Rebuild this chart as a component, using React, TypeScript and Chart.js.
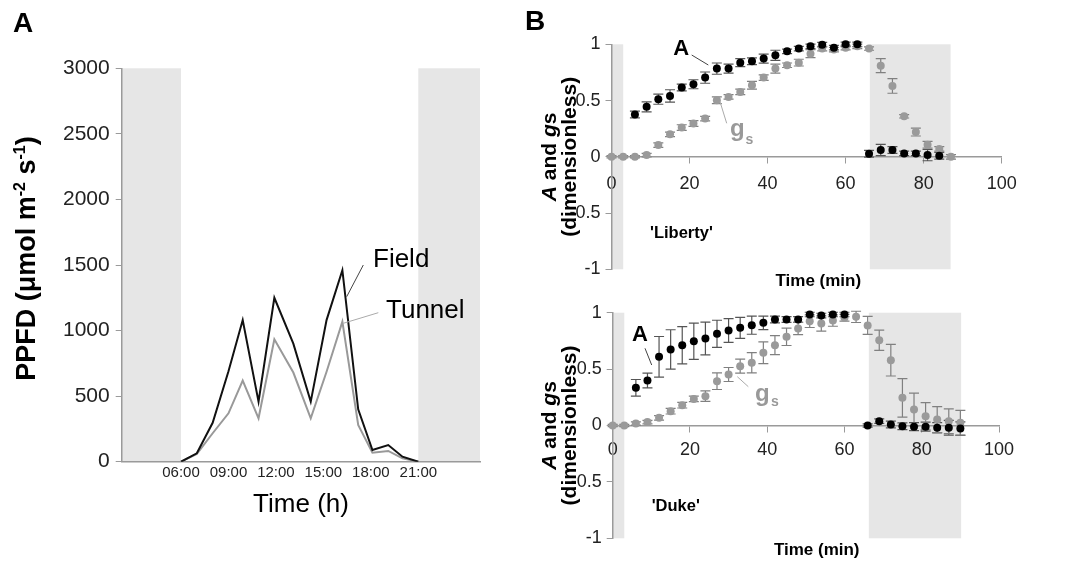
import React, { useEffect, useRef } from "react";
import { Chart, registerables } from "chart.js";

Chart.register(...registerables);

const FONT = '"Liberation Sans", Arial, Helvetica, sans-serif';
const BAND = "#e6e6e6";
const AXIS = "#9a9a9a";

// ---------------- Panel A : PPFD over the day ----------------
const hoursA = [6, 7, 8, 9, 9.9, 10.9, 11.9, 13.1, 14.2, 15.2, 16.2, 17.2, 18.1, 19.1, 20, 21];
const fieldPPFD = [0, 64, 297, 690, 1080, 458, 1250, 900, 458, 1080, 1460, 400, 89, 127, 38, 0];
const tunnelPPFD = [0, 59, 217, 369, 618, 331, 933, 680, 331, 686, 1068, 280, 69, 82, 26, 0];
const hourTickValues = [6, 9, 12, 15, 18, 21];
const hourTickLabels = ["06:00", "09:00", "12:00", "15:00", "18:00", "21:00"];
const ppfdTicks = [0, 500, 1000, 1500, 2000, 2500, 3000];
const darkHoursA = [
  [2.25, 6],
  [21, 24.9],
];

// ---------------- Panel B : 'Liberty' ----------------
const libAx = [6, 9, 12, 15, 18, 21, 24, 27, 30, 33, 36, 39, 42, 45, 48, 51, 54, 57, 60, 63, 66, 69, 72, 75, 78, 81, 84];
const libA = [0.376, 0.444, 0.512, 0.541, 0.616, 0.645, 0.704, 0.784, 0.784, 0.837, 0.849, 0.873, 0.902, 0.938, 0.962, 0.982, 0.997, 0.97, 1.0, 1.0, 0.027, 0.06, 0.06, 0.03, 0.03, 0.015, 0.01];
const libAerr = [0.03, 0.045, 0.045, 0.055, 0.03, 0.04, 0.05, 0.05, 0.04, 0.035, 0.03, 0.04, 0.045, 0.02, 0.02, 0.02, 0.02, 0.02, 0.02, 0.02, 0.03, 0.05, 0.03, 0.02, 0.02, 0.05, 0.03];
const libGx = [0, 3, 6, 9, 12, 15, 18, 21, 24, 27, 30, 33, 36, 39, 42, 45, 48, 51, 54, 57, 60, 63, 66, 69, 72, 75, 78, 81, 84, 87];
const libG = [0, 0, 0, 0.015, 0.104, 0.2, 0.26, 0.296, 0.34, 0.503, 0.532, 0.577, 0.636, 0.704, 0.784, 0.814, 0.837, 0.917, 0.962, 0.953, 0.97, 0.982, 0.962, 0.81, 0.63, 0.36, 0.22, 0.107, 0.07, 0];
const libGerr = [0.01, 0.01, 0.01, 0.015, 0.02, 0.02, 0.025, 0.025, 0.02, 0.03, 0.02, 0.025, 0.035, 0.025, 0.04, 0.02, 0.03, 0.035, 0.02, 0.02, 0.02, 0.02, 0.015, 0.062, 0.065, 0.015, 0.035, 0.03, 0.02, 0.02];
const libDark = [
  [0, 3],
  [66.2, 86.9],
];

// ---------------- Panel B : 'Duke' ----------------
const dukeAx = [6, 9, 12, 15, 18, 21, 24, 27, 30, 33, 36, 39, 42, 45, 48, 51, 54, 57, 60, 66, 69, 72, 75, 78, 81, 84, 87, 90];
const dukeA = [0.334, 0.399, 0.609, 0.674, 0.712, 0.747, 0.771, 0.813, 0.842, 0.866, 0.889, 0.91, 0.94, 0.94, 0.94, 0.984, 0.975, 0.984, 0.984, 0, 0.038, 0.009, -0.006, -0.01, -0.01, -0.02, -0.02, -0.027];
const dukeAerr = [0.074, 0.065, 0.18, 0.175, 0.165, 0.16, 0.145, 0.12, 0.105, 0.093, 0.08, 0.06, 0.03, 0.025, 0.025, 0.02, 0.02, 0.02, 0.02, 0.015, 0.02, 0.03, 0.03, 0.035, 0.04, 0.045, 0.066, 0.06];
const dukeGx = [0, 3, 6, 9, 12, 15, 18, 21, 24, 27, 30, 33, 36, 39, 42, 45, 48, 51, 54, 57, 60, 63, 66, 69, 72, 75, 78, 81, 84, 87, 90];
const dukeG = [0, 0, 0.018, 0.03, 0.068, 0.127, 0.18, 0.236, 0.26, 0.393, 0.452, 0.526, 0.556, 0.645, 0.712, 0.786, 0.86, 0.925, 0.904, 0.93, 0.955, 0.963, 0.887, 0.756, 0.579, 0.245, 0.142, 0.082, 0.053, 0.038, 0.024];
const dukeGerr = [0.01, 0.01, 0.015, 0.015, 0.02, 0.025, 0.025, 0.025, 0.047, 0.074, 0.062, 0.062, 0.09, 0.096, 0.084, 0.077, 0.055, 0.056, 0.067, 0.05, 0.03, 0.05, 0.08, 0.09, 0.14, 0.17, 0.145, 0.12, 0.115, 0.11, 0.11];
const dukeDark = [
  [0, 3],
  [66.3, 90.2],
];

const bTicksY = [-1, -0.5, 0, 0.5, 1];
const bTicksX = [0, 20, 40, 60, 80, 100];

// ---------------- helpers ----------------
function txt(ctx: CanvasRenderingContext2D, s: string, x: number, y: number, font: string, color: string, align: CanvasTextAlign = "left", baseline: CanvasTextBaseline = "alphabetic") {
  ctx.save();
  ctx.font = font;
  ctx.fillStyle = color;
  ctx.textAlign = align;
  ctx.textBaseline = baseline;
  ctx.fillText(s, x, y);
  ctx.restore();
}

function seg(ctx: CanvasRenderingContext2D, x1: number, y1: number, x2: number, y2: number, color: string, w = 1) {
  ctx.save();
  ctx.strokeStyle = color;
  ctx.lineWidth = w;
  ctx.beginPath();
  ctx.moveTo(x1, y1);
  ctx.lineTo(x2, y2);
  ctx.stroke();
  ctx.restore();
}

type Piece = { t: string; font: string; dy?: number };

// rotated (-90deg) text made of pieces, centred along cy, baseline at page x = bx
function rotatedPieces(ctx: CanvasRenderingContext2D, pieces: Piece[], bx: number, cy: number, color: string) {
  ctx.save();
  ctx.fillStyle = color;
  ctx.textBaseline = "alphabetic";
  let total = 0;
  for (const p of pieces) {
    ctx.font = p.font;
    total += ctx.measureText(p.t).width;
  }
  ctx.translate(bx, cy);
  ctx.rotate(-Math.PI / 2);
  let x = -total / 2;
  for (const p of pieces) {
    ctx.font = p.font;
    ctx.fillText(p.t, x, p.dy || 0);
    x += ctx.measureText(p.t).width;
  }
  ctx.restore();
}

// ---------------- Panel A chart ----------------
function makeA(canvas: HTMLCanvasElement) {
  const deco = {
    id: "decoA",
    beforeDraw(chart: any) {
      const { ctx, chartArea: ca, scales } = chart;
      const x = scales.x;
      ctx.save();
      ctx.fillStyle = BAND;
      darkHoursA.forEach(([a, b]) => {
        const x0 = x.getPixelForValue(a);
        const x1 = x.getPixelForValue(b);
        ctx.fillRect(x0, ca.top, x1 - x0, ca.bottom - ca.top);
      });
      ctx.restore();
    },
    afterDraw(chart: any) {
      const ctx = chart.ctx as CanvasRenderingContext2D;
      txt(ctx, "A", 13, 31.7, `bold 28px ${FONT}`, "#000");
      const b = `bold 27px ${FONT}`;
      const sup = `bold 16px ${FONT}`;
      rotatedPieces(
        ctx,
        [
          { t: "PPFD (\u03bcmol m", font: b },
          { t: "-2", font: sup, dy: -10 },
          { t: " s", font: b },
          { t: "-1", font: sup, dy: -10 },
          { t: ")", font: b },
        ],
        34.5,
        258.5,
        "#000"
      );
      txt(ctx, "Time (h)", 301, 512, `26px ${FONT}`, "#000", "center");
      seg(ctx, 363.3, 265, 346.7, 296.7, "#444", 1);
      seg(ctx, 378.3, 312.7, 343.3, 323.3, "#aaa", 1);
      txt(ctx, "Field", 373, 266.7, `26px ${FONT}`, "#000");
      txt(ctx, "Tunnel", 386, 318.3, `26px ${FONT}`, "#000");
    },
  };

  return new Chart(canvas, {
    type: "line",
    data: {
      datasets: [
        {
          label: "Field",
          data: hoursA.map((h, i) => ({ x: h, y: fieldPPFD[i] })),
          borderColor: "#111",
          borderWidth: 2,
          pointRadius: 0,
          tension: 0,
          fill: false,
        },
        {
          label: "Tunnel",
          data: hoursA.map((h, i) => ({ x: h, y: tunnelPPFD[i] })),
          borderColor: "#999",
          borderWidth: 2,
          pointRadius: 0,
          tension: 0,
          fill: false,
        },
      ],
    },
    options: {
      responsive: false,
      animation: false,
      devicePixelRatio: 1,
      layout: { padding: { left: 0, right: 20, top: 68.3, bottom: 0 } },
      plugins: { legend: { display: false }, tooltip: { enabled: false } },
      scales: {
        x: {
          type: "linear",
          min: 2.25,
          max: 24.9,
          afterBuildTicks: (s: any) => {
            s.ticks = hourTickValues.map((v) => ({ value: v }));
          },
          afterFit: (s: any) => {
            s.height = 106.3;
          },
          grid: { display: false, drawTicks: false },
          border: { display: true, color: AXIS, width: 1.5 },
          ticks: {
            autoSkip: false,
            maxRotation: 0,
            padding: 2,
            color: "#222",
            font: { family: FONT, size: 15 },
            callback: (_v: any, i: number) => hourTickLabels[i],
          },
        },
        y: {
          type: "linear",
          min: 0,
          max: 3000,
          afterBuildTicks: (s: any) => {
            s.ticks = ppfdTicks.map((v) => ({ value: v }));
          },
          afterFit: (s: any) => {
            s.width = 121.7;
          },
          grid: { display: true, drawOnChartArea: false, drawTicks: true, tickLength: 6, color: AXIS },
          border: { display: true, color: AXIS, width: 1.5 },
          ticks: { padding: 6, color: "#222", font: { family: FONT, size: 21 }, callback: (v: any) => String(v) },
        },
      },
    } as any,
    plugins: [deco],
  });
}

// ---------------- Panel B charts ----------------
type BSpec = {
  ax: number[];
  a: number[];
  aErr: number[];
  gx: number[];
  g: number[];
  gErr: number[];
  dark: number[][];
  padding: { left: number; right: number; top: number; bottom: number };
  yWidth: number;
  xLabelPad: number;
  letter: boolean;
  name: string;
  namePos: [number, number];
  timePos: [number, number];
  aPos: [number, number];
  aLeader: [number, number, number, number];
  gPos: [number, number];
  sPos: [number, number];
  gLeader: [number, number, number, number];
};

function makeB(canvas: HTMLCanvasElement, sp: BSpec) {
  const errs = [sp.aErr, sp.gErr];
  const errColors = ["#555", "#808080"];
  const deco = {
    id: "decoB",
    beforeDraw(chart: any) {
      const { ctx, chartArea: ca, scales } = chart;
      const x = scales.x;
      ctx.save();
      ctx.fillStyle = BAND;
      sp.dark.forEach(([a, b]) => {
        const x0 = x.getPixelForValue(a);
        const x1 = x.getPixelForValue(b);
        ctx.fillRect(x0, ca.top, x1 - x0, ca.bottom - ca.top);
      });
      ctx.restore();
    },
    beforeDatasetsDraw(chart: any) {
      const ctx = chart.ctx as CanvasRenderingContext2D;
      const ys = chart.scales.y;
      chart.data.datasets.forEach((ds: any, i: number) => {
        const e = errs[i];
        const meta = chart.getDatasetMeta(i);
        ctx.save();
        ctx.strokeStyle = errColors[i];
        ctx.lineWidth = 1.2;
        meta.data.forEach((pt: any, j: number) => {
          const v = ds.data[j].y;
          const t = ys.getPixelForValue(v + e[j]);
          const b = ys.getPixelForValue(v - e[j]);
          const x = pt.x;
          ctx.beginPath();
          ctx.moveTo(x, t);
          ctx.lineTo(x, b);
          ctx.moveTo(x - 5, t);
          ctx.lineTo(x + 5, t);
          ctx.moveTo(x - 5, b);
          ctx.lineTo(x + 5, b);
          ctx.stroke();
        });
        ctx.restore();
      });
    },
    afterDraw(chart: any) {
      const ctx = chart.ctx as CanvasRenderingContext2D;
      const ca = chart.chartArea;
      const cy = (ca.top + ca.bottom) / 2;
      if (sp.letter) txt(ctx, "B", 25, 30, `bold 28px ${FONT}`, "#000");
      const bb = `bold 21px ${FONT}`;
      const bi = `italic bold 21px ${FONT}`;
      rotatedPieces(
        ctx,
        [
          { t: "A", font: bi },
          { t: " and ", font: bb },
          { t: "g", font: bi },
          { t: "s", font: bb },
        ],
        55.5,
        cy,
        "#000"
      );
      rotatedPieces(ctx, [{ t: "(dimensionless)", font: bb }], 75.5, cy, "#000");
      txt(ctx, "Time (min)", sp.timePos[0], sp.timePos[1], `bold 17px ${FONT}`, "#000", "center", "middle");
      txt(ctx, sp.name, sp.namePos[0], sp.namePos[1], `bold 16.5px ${FONT}`, "#000", "left", "middle");
      seg(ctx, sp.aLeader[0], sp.aLeader[1], sp.aLeader[2], sp.aLeader[3], "#444", 1);
      txt(ctx, "A", sp.aPos[0], sp.aPos[1], `bold 22px ${FONT}`, "#000", "center", "middle");
      seg(ctx, sp.gLeader[0], sp.gLeader[1], sp.gLeader[2], sp.gLeader[3], "#aaa", 1);
      txt(ctx, "g", sp.gPos[0], sp.gPos[1], `bold 24px ${FONT}`, "#999");
      txt(ctx, "s", sp.sPos[0], sp.sPos[1], `bold 14px ${FONT}`, "#999");
    },
  };

  return new Chart(canvas, {
    type: "scatter",
    data: {
      datasets: [
        {
          label: "A",
          data: sp.ax.map((t, i) => ({ x: t, y: sp.a[i] })),
          pointRadius: 4,
          pointBackgroundColor: "#000",
          pointBorderWidth: 0,
          showLine: false,
          order: 0,
          clip: false,
        },
        {
          label: "gs",
          data: sp.gx.map((t, i) => ({ x: t, y: sp.g[i] })),
          pointRadius: 4,
          pointBackgroundColor: "#9a9a9a",
          pointBorderWidth: 0,
          showLine: false,
          order: 1,
          clip: false,
        },
      ],
    },
    options: {
      responsive: false,
      animation: false,
      devicePixelRatio: 1,
      layout: { padding: sp.padding },
      plugins: { legend: { display: false }, tooltip: { enabled: false } },
      scales: {
        x: {
          type: "linear",
          position: { y: 0 },
          min: 0,
          max: 100,
          afterBuildTicks: (s: any) => {
            s.ticks = bTicksX.map((v) => ({ value: v }));
          },
          afterFit: (s: any) => {
            s.height = 0;
          },
          grid: { display: true, drawOnChartArea: false, drawTicks: true, tickLength: 6, color: AXIS },
          border: { display: true, color: AXIS, width: 1.5 },
          ticks: {
            autoSkip: false,
            maxRotation: 0,
            padding: sp.xLabelPad,
            color: "#222",
            font: { family: FONT, size: 18 },
            callback: (v: any) => String(v),
          },
        },
        y: {
          type: "linear",
          min: -1,
          max: 1,
          afterBuildTicks: (s: any) => {
            s.ticks = bTicksY.map((v) => ({ value: v }));
          },
          afterFit: (s: any) => {
            s.width = sp.yWidth;
          },
          grid: { display: true, drawOnChartArea: false, drawTicks: true, tickLength: 6, color: AXIS },
          border: { display: true, color: AXIS, width: 1.5 },
          ticks: {
            padding: 5,
            color: "#222",
            font: { family: FONT, size: 18 },
            callback: (v: any) => String(v),
          },
        },
      },
    } as any,
    plugins: [deco],
  });
}

const libertySpec: BSpec = {
  ax: libAx,
  a: libA,
  aErr: libAerr,
  gx: libGx,
  g: libG,
  gErr: libGerr,
  dark: libDark,
  padding: { left: 0, right: 69.3, top: 44.3, bottom: 20.7 },
  yWidth: 111.5,
  xLabelPad: 10,
  letter: true,
  name: "'Liberty'",
  namePos: [150, 233],
  timePos: [318.3, 281.7],
  aPos: [181.3, 48.5],
  aLeader: [191.7, 55, 208.3, 65],
  gPos: [230, 135.5],
  sPos: [245.5, 143.5],
  gLeader: [226.7, 123.3, 220, 101.7],
};

const dukeSpec: BSpec = {
  ax: dukeAx,
  a: dukeA,
  aErr: dukeAerr,
  gx: dukeGx,
  g: dukeG,
  gErr: dukeGerr,
  dark: dukeDark,
  padding: { left: 0, right: 72, top: 22.7, bottom: 29.7 },
  yWidth: 112.7,
  xLabelPad: 8,
  letter: false,
  name: "'Duke'",
  namePos: [151.7, 216.7],
  timePos: [316.7, 260],
  aPos: [140, 45],
  aLeader: [145, 58.3, 151.7, 75],
  gPos: [255, 110.8],
  sPos: [271, 115.5],
  gLeader: [248.3, 96.7, 237.3, 86.7],
};

export default function App() {
  const aRef = useRef<HTMLCanvasElement>(null);
  const b1Ref = useRef<HTMLCanvasElement>(null);
  const b2Ref = useRef<HTMLCanvasElement>(null);

  useEffect(() => {
    document.body.style.margin = "0";
    const charts = [makeA(aRef.current!), makeB(b1Ref.current!, libertySpec), makeB(b2Ref.current!, dukeSpec)];
    return () => charts.forEach((c) => c.destroy());
  }, []);

  return (
    <div style={{ position: "relative", width: 1071, height: 568, background: "#fff", overflow: "hidden" }}>
      <canvas ref={aRef} width={500} height={568} style={{ position: "absolute", left: 0, top: 0, width: 500, height: 568 }} />
      <canvas ref={b1Ref} width={571} height={290} style={{ position: "absolute", left: 500, top: 0, width: 571, height: 290 }} />
      <canvas ref={b2Ref} width={571} height={278} style={{ position: "absolute", left: 500, top: 290, width: 571, height: 278 }} />
    </div>
  );
}
